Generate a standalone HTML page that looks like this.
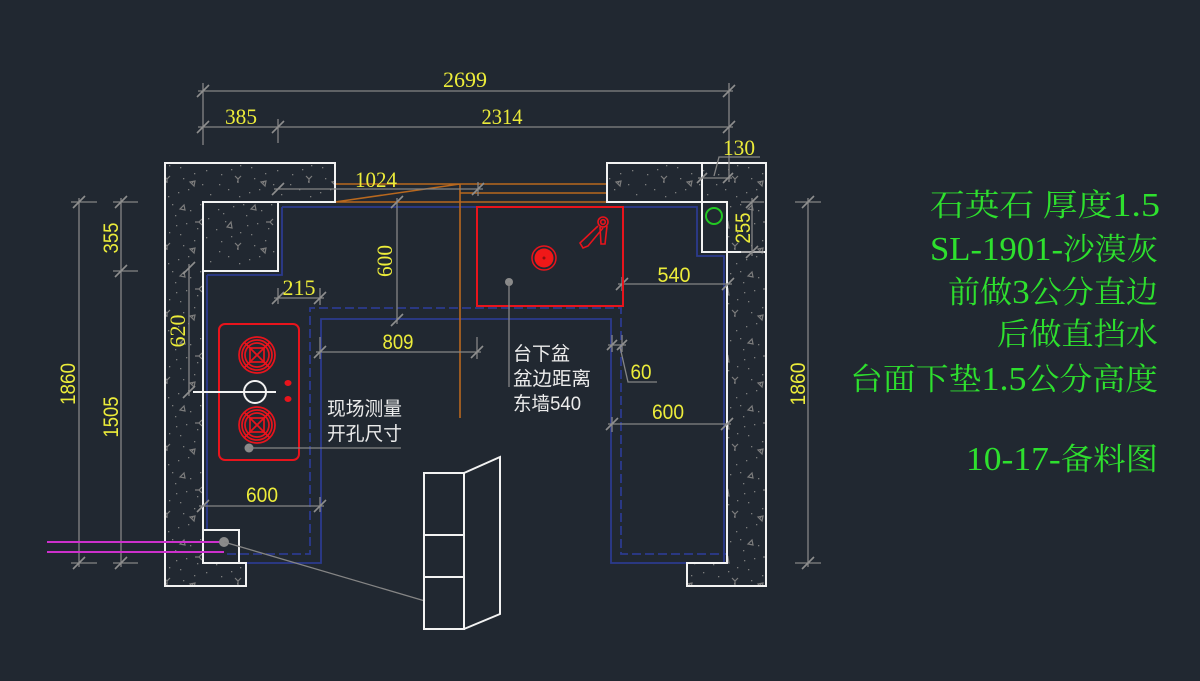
<!DOCTYPE html>
<html><head><meta charset="utf-8"><style>
html,body{margin:0;padding:0;background:#212831;}
svg{display:block;}
.ys{font-family:"Liberation Serif",serif;font-size:22px;fill:#ecec3a;}
.yn{font-family:"Liberation Sans",sans-serif;font-size:21px;fill:#ecec3a;}
.wt{font-family:"Liberation Sans","Noto Sans CJK SC",sans-serif;font-size:19px;fill:#ececec;}
.gt{font-family:"Liberation Serif","Noto Serif CJK SC",serif;font-size:31px;fill:#2ee02e;}
</style></head><body>
<svg width="1200" height="681" viewBox="0 0 1200 681" xmlns="http://www.w3.org/2000/svg">
<defs>
<pattern id="hatch" x="0" y="0" width="71" height="67" patternUnits="userSpaceOnUse">
<g fill="#7c7c7c">
<rect x="5" y="8" width="1.3" height="1.3"/><rect x="12" y="20" width="1.3" height="1.3"/><rect x="20" y="5" width="1.3" height="1.3"/>
<rect x="27" y="31" width="1.3" height="1.3"/><rect x="33" y="14" width="1.3" height="1.3"/><rect x="41" y="44" width="1.3" height="1.3"/>
<rect x="48" y="9" width="1.3" height="1.3"/><rect x="55" y="27" width="1.3" height="1.3"/><rect x="60" y="50" width="1.3" height="1.3"/>
<rect x="8" y="40" width="1.3" height="1.3"/><rect x="15" y="55" width="1.3" height="1.3"/><rect x="24" y="47" width="1.3" height="1.3"/>
<rect x="36" y="58" width="1.3" height="1.3"/><rect x="44" y="22" width="1.3" height="1.3"/><rect x="52" y="39" width="1.3" height="1.3"/>
<rect x="58" y="3" width="1.3" height="1.3"/><rect x="3" y="28" width="1.3" height="1.3"/><rect x="30" y="3" width="1.3" height="1.3"/>
<rect x="18" y="35" width="1.3" height="1.3"/><rect x="46" y="55" width="1.3" height="1.3"/><rect x="66" y="17" width="1.3" height="1.3"/>
<rect x="38" y="33" width="1.3" height="1.3"/><rect x="10" y="12" width="1.3" height="1.3"/><rect x="26" y="62" width="1.3" height="1.3"/>
<rect x="50" y="48" width="1.3" height="1.3"/><rect x="34" y="24" width="1.3" height="1.3"/><rect x="6" y="50" width="1.3" height="1.3"/>
<rect x="64" y="36" width="1.3" height="1.3"/><rect x="68" y="60" width="1.3" height="1.3"/>
</g>
<g fill="none" stroke="#7c7c7c" stroke-width="1.2">
<path d="M14 26 l4 -5 l1 6 z"/><path d="M52 52 l-4 -4 l5 -1 z"/>
<path d="M22 42 l3 3 l3 -3 M25 45 v4"/><path d="M60 18 l-3 3 l3 3 M57 21 h-4"/>
<path d="M38 8 l4 -4 l1 5 z"/>
</g>
</pattern>
</defs>

<!-- hatched wall fills -->
<path d="M165 163 H335 V202 H203 V563 H246 V586 H165 Z" fill="url(#hatch)"/>
<path d="M203 202 H278 V271 H203 Z" fill="url(#hatch)"/>
<path d="M607 163 H766 V586 H687 V563 H727 V202 H607 Z" fill="url(#hatch)"/>

<!-- blue countertop lines -->
<g fill="none" stroke="#2b3a8e" stroke-width="1.8">
<path d="M207 275 V530"/>
<path d="M239 563 H321 V319 H611 V563 H687"/>
<path d="M282 207 V275 H207"/>
<path d="M282 207 H697 V256 H724 V563"/>
<path d="M227 554 H310 V308 H621 V554 H727" stroke-dasharray="9 4"/>
</g>

<!-- orange lines -->
<g fill="none" stroke="#b8681e" stroke-width="1.6">
<path d="M335 184 H607 M460 193 H607 M335 202 H607 M335 202 L460 184 M460 184 V418"/>
</g>

<!-- white wall outlines -->
<g fill="none" stroke="#f2f2f2" stroke-width="2">
<path d="M165 163 H335 V202 H203 V563 H246 V586 H165 Z"/>
<path d="M203 202 H278 V271 H203"/>
<path d="M203 530 H239 V563"/>
<path d="M607 163 H766 V586 H687 V563 H727 V202 H607 Z"/>
<path d="M702 163 V252 H766"/>
</g>
<circle cx="714" cy="216" r="8" fill="none" stroke="#22c822" stroke-width="2"/>

<!-- dimension lines -->
<g fill="none" stroke="#858585" stroke-width="1.3">
<path d="M198 91 H733 M203 83 V145 M729 83 V182"/>
<path d="M198 127 H733 M278 119 V143"/>
<path d="M274 189 H483 M478 182 V196"/>
<path d="M397 198 V324"/>
<path d="M274 298 H324 M278 288 V304 M320 288 V305"/>
<path d="M316 352 H481 M320 337 V359 M477 337 V359"/>
<path d="M618 284 H732 M622 277 V291"/>
<path d="M608 345 H626 M612 335 V352 M622 335 V352 M620 347 L628 382 H657"/>
<path d="M608 424 H731 M612 417 V432"/>
<path d="M199 506 H324 M320 497 V512"/>
<path d="M189 264 V396"/>
<path d="M79 198 V567 M71 202 H97 M71 563 H97"/>
<path d="M121 198 V567 M113 202 H138 M113 271 H138 M113 563 H138"/>
<path d="M808 198 V567 M795 202 H821 M795 563 H821"/>
<path d="M752 198 V256 M741 202 H764 M741 252 H764"/>
<path d="M698 178 H732 M714 176 L719 157 H760"/>
</g>
<!-- ticks -->
<g fill="none" stroke="#8e8e8e" stroke-width="1.6">
<path d="M197 97 l12 -12 M723 97 l12 -12"/>
<path d="M197 133 l12 -12 M272 133 l12 -12 M723 133 l12 -12"/>
<path d="M272 195 l12 -12 M472 195 l12 -12"/>
<path d="M391 208 l12 -12 M391 326 l12 -12"/>
<path d="M272 304 l12 -12 M314 304 l12 -12"/>
<path d="M314 358 l12 -12 M471 358 l12 -12"/>
<path d="M616 290 l12 -12 M722 290 l12 -12"/>
<path d="M607 350 l10 -10 M617 350 l10 -10"/>
<path d="M606 430 l12 -12 M721 430 l12 -12"/>
<path d="M197 512 l12 -12 M314 512 l12 -12"/>
<path d="M183 274 l12 -12 M183 398 l12 -12"/>
<path d="M73 208 l12 -12 M73 569 l12 -12"/>
<path d="M115 208 l12 -12 M115 277 l12 -12 M115 569 l12 -12"/>
<path d="M802 208 l12 -12 M802 569 l12 -12"/>
<path d="M746 208 l12 -12 M746 258 l12 -12"/>
<path d="M697 183 l10 -10 M723 183 l10 -10"/>
</g>

<!-- dimension texts -->
<text class="ys" x="465" y="87" text-anchor="middle" textLength="44" lengthAdjust="spacingAndGlyphs">2699</text>
<text class="ys" x="241" y="124" text-anchor="middle" textLength="32" lengthAdjust="spacingAndGlyphs">385</text>
<text class="ys" x="502" y="124" text-anchor="middle" textLength="41" lengthAdjust="spacingAndGlyphs">2314</text>
<text class="ys" x="376" y="187" text-anchor="middle" textLength="42" lengthAdjust="spacingAndGlyphs">1024</text>
<text class="ys" x="299" y="295" text-anchor="middle" textLength="33" lengthAdjust="spacingAndGlyphs">215</text>
<text class="ys" x="739" y="155" text-anchor="middle" textLength="32" lengthAdjust="spacingAndGlyphs">130</text>
<text class="ys" transform="translate(392,261) rotate(-90)" text-anchor="middle" textLength="32" lengthAdjust="spacingAndGlyphs">600</text>
<text class="ys" transform="translate(185,331) rotate(-90)" text-anchor="middle" textLength="33" lengthAdjust="spacingAndGlyphs">620</text>
<text class="yn" x="398" y="349" text-anchor="middle" textLength="31" lengthAdjust="spacingAndGlyphs">809</text>
<text class="yn" x="674" y="282" text-anchor="middle" textLength="33" lengthAdjust="spacingAndGlyphs">540</text>
<text class="yn" x="641" y="379" text-anchor="middle" textLength="21" lengthAdjust="spacingAndGlyphs">60</text>
<text class="yn" x="668" y="419" text-anchor="middle" textLength="32" lengthAdjust="spacingAndGlyphs">600</text>
<text class="yn" x="262" y="502" text-anchor="middle" textLength="32" lengthAdjust="spacingAndGlyphs">600</text>
<text class="yn" transform="translate(75,384) rotate(-90)" text-anchor="middle" textLength="42" lengthAdjust="spacingAndGlyphs">1860</text>
<text class="yn" transform="translate(118,238) rotate(-90)" text-anchor="middle" textLength="31" lengthAdjust="spacingAndGlyphs">355</text>
<text class="yn" transform="translate(118,417) rotate(-90)" text-anchor="middle" textLength="41" lengthAdjust="spacingAndGlyphs">1505</text>
<text class="yn" transform="translate(805,384) rotate(-90)" text-anchor="middle" textLength="43" lengthAdjust="spacingAndGlyphs">1860</text>
<text class="yn" transform="translate(750,228) rotate(-90)" text-anchor="middle" textLength="31" lengthAdjust="spacingAndGlyphs">255</text>

<!-- sink -->
<rect x="477" y="207" width="146" height="99" fill="none" stroke="#e8141c" stroke-width="2"/>
<circle cx="544" cy="258" r="12" fill="none" stroke="#e8141c" stroke-width="1.5"/>
<circle cx="544" cy="258" r="9.5" fill="#f01818"/>
<circle cx="544" cy="258" r="1.5" fill="#901010"/>
<g fill="none" stroke="#e8141c" stroke-width="1.6">
<circle cx="603" cy="222" r="5"/>
<circle cx="603" cy="222" r="2.3"/>
<path d="M598 226 L580 243 L583 248 L588 246 L603 228"/>
<path d="M600 227 L601 244 L605 244 L607 226"/>
</g>
<circle cx="509" cy="282" r="4" fill="#8a8a8a"/>
<path d="M509 282 V387" stroke="#858585" stroke-width="1.3"/>

<!-- stove -->
<rect x="219" y="324" width="80" height="136" rx="6" fill="none" stroke="#e8141c" stroke-width="2"/>
<g fill="none" stroke="#e8141c" stroke-width="1.7">
<circle cx="257" cy="355" r="18"/><circle cx="257" cy="355" r="15"/><circle cx="257" cy="355" r="12"/>
<rect x="250" y="348" width="14" height="14"/>
<path d="M244 342 L270 368 M270 342 L244 368"/>
<circle cx="257" cy="425" r="18"/><circle cx="257" cy="425" r="15"/><circle cx="257" cy="425" r="12"/>
<rect x="250" y="418" width="14" height="14"/>
<path d="M244 412 L270 438 M270 412 L244 438"/>
</g>
<ellipse cx="288" cy="383" rx="3.5" ry="3" fill="#e8141c"/>
<ellipse cx="288" cy="399" rx="3.5" ry="3" fill="#e8141c"/>
<path d="M193 392 H276" stroke="#f2f2f2" stroke-width="2"/>
<circle cx="255" cy="392" r="11" fill="none" stroke="#f2f2f2" stroke-width="2"/>
<circle cx="249" cy="448" r="4.5" fill="#8a8a8a"/>
<path d="M249 448 H401" stroke="#858585" stroke-width="1.3"/>

<!-- magenta pipes -->
<path d="M47 542 H224 M47 552 H224" stroke="#cc30cc" stroke-width="2"/>
<circle cx="224" cy="542" r="5" fill="#8a8a8a"/>
<path d="M224 542 L425 601" stroke="#858585" stroke-width="1.3"/>

<!-- cabinet -->
<g fill="none" stroke="#f2f2f2" stroke-width="2">
<rect x="424" y="473" width="40" height="156"/>
<path d="M424 535 H464 M424 577 H464"/>
<path d="M464 473 L500 457 V614 L464 629"/>
</g>

<!-- white notes -->
<text class="wt" x="513" y="360" textLength="57" lengthAdjust="spacingAndGlyphs">台下盆</text>
<text class="wt" x="513" y="385" textLength="78" lengthAdjust="spacingAndGlyphs">盆边距离</text>
<text class="wt" x="513" y="410" textLength="68" lengthAdjust="spacingAndGlyphs">东墙540</text>
<text class="wt" x="327" y="415" textLength="75" lengthAdjust="spacingAndGlyphs">现场测量</text>
<text class="wt" x="327" y="440" textLength="75" lengthAdjust="spacingAndGlyphs">开孔尺寸</text>

<!-- green notes -->
<text class="gt" x="1160" y="216" text-anchor="end" textLength="230" lengthAdjust="spacingAndGlyphs">石英石  厚度<tspan font-size="34">1.5</tspan></text>
<text class="gt" x="1158" y="260" text-anchor="end" textLength="228" lengthAdjust="spacingAndGlyphs"><tspan font-size="34">SL-1901-</tspan>沙漠灰</text>
<text class="gt" x="1158" y="303" text-anchor="end" textLength="210" lengthAdjust="spacingAndGlyphs">前做<tspan font-size="34">3</tspan>公分直边</text>
<text class="gt" x="1158" y="345" text-anchor="end" textLength="161" lengthAdjust="spacingAndGlyphs">后做直挡水</text>
<text class="gt" x="1158" y="390" text-anchor="end" textLength="308" lengthAdjust="spacingAndGlyphs">台面下垫<tspan font-size="34">1.5</tspan>公分高度</text>
<text class="gt" x="1158" y="470" text-anchor="end" textLength="192" lengthAdjust="spacingAndGlyphs"><tspan font-size="34">10-17-</tspan>备料图</text>
</svg>
</body></html>
